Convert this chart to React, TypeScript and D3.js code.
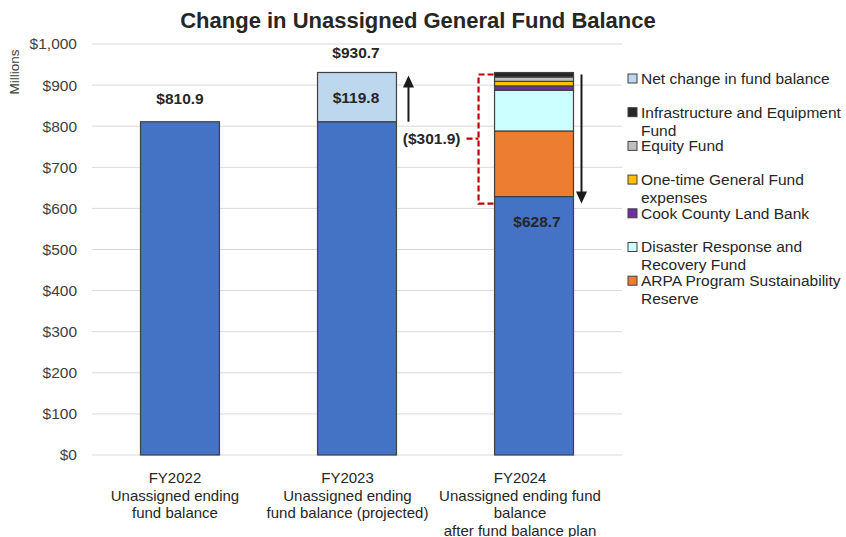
import React from "react";
import * as d3 from "d3";

const categories = ["FY2022", "FY2023", "FY2024"];
const categoryLabels = [
  ["FY2022", "Unassigned ending", "fund balance"],
  ["FY2023", "Unassigned ending", "fund balance (projected)"],
  ["FY2024", "Unassigned ending fund", "balance", "after fund balance plan"],
];

// values in $ millions
const unassigned = [810.9, 810.9, 628.7];
const arpaReserve = [0, 0, 159.6];
const disasterFund = [0, 0, 99.0];
const landBank = [0, 0, 10.8];
const oneTimeExpenses = [0, 0, 11.0];
const equityFund = [0, 0, 10.7];
const infrastructureFund = [0, 0, 10.8];
const netChange = [0, 119.8, 0];

const yTicks = [0, 100, 200, 300, 400, 500, 600, 700, 800, 900, 1000];

const series = [
  { key: "unassigned", values: unassigned, color: "#4472C4", label: "" },
  { key: "arpa", values: arpaReserve, color: "#ED7D31", label: "ARPA Program Sustainability\nReserve" },
  { key: "disaster", values: disasterFund, color: "#CCFFFF", label: "Disaster Response and\nRecovery Fund" },
  { key: "landBank", values: landBank, color: "#7030A0", label: "Cook County Land Bank" },
  { key: "oneTime", values: oneTimeExpenses, color: "#FFC000", label: "One-time General Fund\nexpenses" },
  { key: "equity", values: equityFund, color: "#BFBFBF", label: "Equity Fund" },
  { key: "infra", values: infrastructureFund, color: "#262626", label: "Infrastructure and Equipment\nFund" },
  { key: "net", values: netChange, color: "#BDD7EE", label: "Net change in fund balance" },
];

const legendOrder = ["net", "infra", "equity", "oneTime", "landBank", "disaster", "arpa"];

const W = 846;
const H = 537;
const font = "'Liberation Sans', Arial, Helvetica, sans-serif";
const fmt = (v: number) => "$" + d3.format(",.1f")(v);

export default function App() {
  const x = d3.scaleBand().domain(categories).range([92, 622]).paddingInner(0.554).paddingOuter(0.274);
  const y = d3.scaleLinear().domain([0, 1000]).range([455, 44]);

  const rows = categories.map((c, i) => {
    const r: any = { category: c };
    series.forEach((s) => (r[s.key] = s.values[i]));
    return r;
  });
  const stacked = d3.stack<any>().keys(series.map((s) => s.key))(rows);

  const bw = x.bandwidth();
  const cx = (c: string) => (x(c) as number) + bw / 2;
  const totals = rows.map((r) => d3.sum(series, (s) => r[s.key]));
  const planTotal = d3.sum([arpaReserve, disasterFund, landBank, oneTimeExpenses, equityFund, infrastructureFund], (a) => a[2]);

  const labelX = d3.scalePoint().domain(categories).range([cx(categories[0]) - 5, cx(categories[2]) - 14]);

  // arrows
  const upX = (x("FY2023") as number) + bw + 12;
  const upBottom = y(unassigned[1]);
  const upTip = y(totals[1]) + 3;
  const downX = (x("FY2024") as number) + bw + 8;
  const downTop = y(totals[2]) + 2;
  const downTip = y(unassigned[2]) + 7;

  // bracket
  const brX = (x("FY2024") as number) - 16;
  const brRight = (x("FY2024") as number) - 1;
  const brTop = y(totals[2]) + 2;
  const brBottom = y(unassigned[2]) + 7;
  const brMid = (brTop + brBottom) / 2 - 0.5;

  const legendTop = 78.5;
  const legendStep = 33.7;

  return (
    <svg width={W} height={H} style={{ position: "absolute", left: 0, top: 0, background: "#fff" }} fontFamily={font}>
      <text x={418} y={28} textAnchor="middle" fontSize={22} fontWeight="bold" fill="#262626">
        Change in Unassigned General Fund Balance
      </text>

      {yTicks.map((t) => (
        <g key={t}>
          <line x1={92} x2={622} y1={y(t)} y2={y(t)} stroke="#D9D9D9" strokeWidth={1} />
          <text x={77} y={y(t)} dy="0.35em" textAnchor="end" fontSize={15.5} fill="#404040">
            {"$" + d3.format(",")(t)}
          </text>
        </g>
      ))}

      <text transform="translate(19,72) rotate(-90)" textAnchor="middle" fontSize={13.5} fill="#404040">
        Millions
      </text>

      {stacked.map((layer, li) => (
        <g key={layer.key} fill={series[li].color}>
          {layer.map((d, i) =>
            d[1] - d[0] > 0 ? (
              <rect
                key={i}
                x={x(categories[i])}
                y={y(d[1])}
                width={bw}
                height={y(d[0]) - y(d[1])}
                stroke="#404040"
                strokeWidth={1.2}
              />
            ) : null
          )}
        </g>
      ))}

      {/* data labels */}
      <g fontSize={15.5} fontWeight="bold" fill="#262626" textAnchor="middle">
        <text x={cx("FY2022")} y={y(totals[0]) - 18}>{fmt(totals[0])}</text>
        <text x={cx("FY2023") - 1} y={y(totals[1]) - 14}>{fmt(totals[1])}</text>
        <text x={cx("FY2023") - 1} y={(y(totals[1]) + y(unassigned[1])) / 2} dy="0.35em">
          {fmt(netChange[1])}
        </text>
        <text x={cx("FY2024") + 3} y={y(unassigned[2]) + 30}>{fmt(unassigned[2])}</text>
        <text x={brX - 18} y={brMid} dy="0.35em" textAnchor="end">
          {"(" + fmt(planTotal) + ")"}
        </text>
      </g>

      {/* red dashed bracket */}
      <g stroke="#C00000" strokeWidth={2.2} fill="none" strokeDasharray="6,3">
        <path d={`M${brRight},${brTop}H${brX}V${brBottom}H${brRight}`} />
        <line x1={brX - 12} x2={brX} y1={brMid} y2={brMid} />
      </g>

      {/* arrows */}
      <g stroke="#1a1a1a" strokeWidth={2} fill="#1a1a1a">
        <line x1={upX} x2={upX} y1={upBottom} y2={upTip + 10} />
        <path d={`M${upX},${upTip}L${upX - 5.5},${upTip + 12}L${upX + 5.5},${upTip + 12}Z`} stroke="none" />
        <line x1={downX} x2={downX} y1={downTop} y2={downTip - 10} />
        <path d={`M${downX},${downTip}L${downX - 5.5},${downTip - 12}L${downX + 5.5},${downTip - 12}Z`} stroke="none" />
      </g>

      {/* category labels */}
      <g fontSize={15} fill="#262626" textAnchor="middle">
        {categories.map((c, i) => (
          <text key={c} x={labelX(c)} y={483}>
            {categoryLabels[i].map((l, j) => (
              <tspan key={j} x={labelX(c)} dy={j === 0 ? 0 : 17.5}>
                {l}
              </tspan>
            ))}
          </text>
        ))}
      </g>

      {/* legend */}
      <g fontSize={15.5} fill="#262626">
        {legendOrder.map((k, i) => {
          const s = series.find((d) => d.key === k)!;
          const ly = legendTop + i * legendStep;
          return (
            <g key={k}>
              <rect x={628} y={ly - 4.5} width={9} height={9} fill={s.color} stroke="#404040" strokeWidth={1} />
              <text x={641} y={ly} dy="0.35em">
                {s.label.split("\n").map((l, j) => (
                  <tspan key={j} x={641} dy={j === 0 ? "0.35em" : 18}>
                    {l}
                  </tspan>
                ))}
              </text>
            </g>
          );
        })}
      </g>
    </svg>
  );
}
